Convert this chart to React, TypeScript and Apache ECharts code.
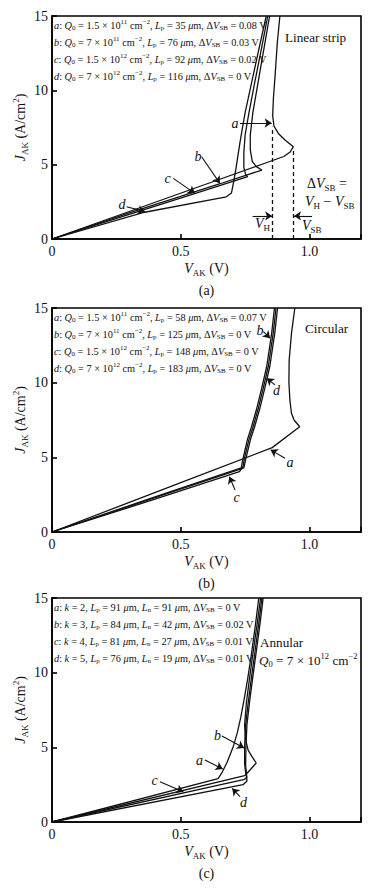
import React, { useEffect, useRef } from "react";
import * as echarts from "echarts";

// ---------- axes ----------
const X_MIN = 0;
const X_MAX = 1.2;
const X_STEP = 0.5;
const Y_MIN = 0;
const Y_MAX = 15;
const Y_STEP = 5;
const CURVE_IDS = ["a", "b", "c", "d"];
const PANEL_NAMES = ["(a)", "(b)", "(c)"];

// ---------- (a) Linear strip : [V_AK (V), J_AK (A/cm2)] ----------
const linearA = [[0, 0], [0.3, 1.85], [0.6, 3.7], [0.9, 5.55], [0.925, 5.85], [0.937, 6.2], [0.905, 6.66], [0.879, 7.1], [0.862, 7.6], [0.857, 8.3], [0.86, 9.5], [0.866, 10.9], [0.875, 13.2], [0.885, 15]];
const linearB = [[0, 0], [0.3, 1.75], [0.65, 3.7], [0.815, 4.64], [0.795, 4.85], [0.778, 5.2], [0.77, 6], [0.77, 7], [0.78, 8.5], [0.8, 10.5], [0.82, 12.5], [0.845, 15]];
const linearC = [[0, 0], [0.3, 1.65], [0.554, 3.05], [0.76, 4.19], [0.752, 4.35], [0.745, 4.8], [0.745, 5.8], [0.75, 7], [0.765, 8.5], [0.787, 10.5], [0.81, 12.5], [0.838, 15]];
const linearD = [[0, 0], [0.36, 1.8], [0.677, 2.84], [0.697, 3.1], [0.705, 3.8], [0.715, 4.8], [0.73, 6.5], [0.75, 8.5], [0.775, 10.5], [0.8, 12.5], [0.832, 15]];

// ---------- (b) Circular ----------
const circA = [[0, 0], [0.5, 3.3], [0.855, 5.65], [0.962, 7.05], [0.94, 7.5], [0.93, 7.95], [0.924, 8.8], [0.92, 10], [0.921, 11.5], [0.93, 13.3], [0.943, 15]];
const circB = [[0, 0], [0.4, 2.35], [0.735, 4.3], [0.738, 4.6], [0.743, 5.0], [0.759, 6.2], [0.774, 7.0], [0.794, 8.2], [0.814, 9.6], [0.834, 11.1], [0.853, 13.3], [0.864, 15]];
const circC = [[0, 0], [0.4, 2.2], [0.728, 4.05], [0.742, 4.4], [0.748, 5.0], [0.765, 6.2], [0.78, 7.0], [0.8, 8.2], [0.82, 9.6], [0.84, 11.1], [0.859, 13.3], [0.87, 15]];
const circD = [[0, 0], [0.4, 2.3], [0.72, 4.15], [0.745, 4.3], [0.754, 5.0], [0.771, 6.2], [0.786, 7.0], [0.806, 8.2], [0.826, 9.6], [0.846, 11.1], [0.865, 13.3], [0.876, 15]];

// ---------- (c) Annular ----------
const annA = [[0, 0], [0.645, 2.9], [0.66, 3.3], [0.68, 4.0], [0.703, 5.0], [0.72, 6.0], [0.733, 7.0], [0.745, 8.1], [0.76, 9.6], [0.775, 11.3], [0.79, 13.2], [0.803, 15]];
const annB = [[0, 0], [0.748, 3.1], [0.77, 3.5], [0.793, 3.95], [0.778, 4.35], [0.762, 4.8], [0.752, 5.5], [0.748, 6.5], [0.755, 8], [0.767, 9.6], [0.782, 11.5], [0.797, 13.3], [0.81, 15]];
const annC = [[0, 0], [0.748, 2.86], [0.756, 3.0], [0.752, 3.3], [0.748, 3.9], [0.748, 5], [0.752, 6.5], [0.762, 8], [0.774, 9.6], [0.789, 11.5], [0.803, 13.3], [0.815, 15]];
const annD = [[0, 0], [0.742, 2.5], [0.757, 2.75], [0.756, 3.1], [0.752, 3.8], [0.753, 5], [0.757, 6.5], [0.767, 8], [0.779, 9.6], [0.794, 11.5], [0.808, 13.3], [0.82, 15]];

// ---------- legend parameters ----------
const q0Mantissa = ["1.5", "7", "1.5", "7"];
const q0Exponent = ["11", "11", "12", "12"];
const linearLp = ["35", "76", "92", "116"];
const linearDV = ["0.08", "0.03", "0.02", "0"];
const circLp = ["58", "125", "148", "183"];
const circDV = ["0.07", "0", "0", "0"];
const annK = ["2", "3", "4", "5"];
const annLp = ["91", "84", "81", "76"];
const annLn = ["91", "42", "27", "19"];
const annDV = ["0", "0.02", "0.01", "0.01"];

// ---------- annotation arrows [x1, y1, x2(tip), y2(tip)] in data units ----------
const linearArrows = [[0.73, 7.8, 0.853, 7.8], [0.581, 5.53, 0.652, 3.74], [0.471, 4.08, 0.555, 3.07], [0.29, 2.17, 0.361, 1.84], [0.779, 1.55, 0.855, 1.55], [1.01, 1.55, 0.94, 1.55]];
const linearDashes = [[0.857, 7.55], [0.937, 6.1]]; // V_H, V_SB
const circArrows = [[0.821, 13.42, 0.847, 12.98], [0.866, 9.85, 0.834, 10.29], [0.905, 4.94, 0.849, 5.5], [0.711, 2.81, 0.689, 3.7]];
const annArrows = [[0.66, 5.76, 0.746, 4.96], [0.594, 4.15, 0.663, 3.55], [0.419, 2.7, 0.51, 2.03], [0.73, 1.7, 0.7, 2.25]];

// ---------- layout ----------
const FONT = "'Liberation Serif', 'Times New Roman', serif";
const GRID_LEFT = 52;
const GRID_WIDTH = 309;
const PANEL_TOP = [16, 308, 598];
const PANEL_H = [223, 224, 224];

const mkRich = (size: number, lh: number, small: number) => ({
  n: { fontFamily: FONT, fontSize: size, lineHeight: lh, fill: "#111" },
  i: { fontFamily: FONT, fontSize: size, lineHeight: lh, fill: "#111", fontStyle: "italic" },
  sub: { fontFamily: FONT, fontSize: small, lineHeight: small, fill: "#111", verticalAlign: "bottom" },
  sup: { fontFamily: FONT, fontSize: small, lineHeight: small, fill: "#111", verticalAlign: "top" },
});
const RICH_S = mkRich(10.3, 13, 7);
const RICH_L = mkRich(14, 18, 9);
const RICH_M = mkRich(13.2, 17, 8.5);

const txt = (x: number, y: number, text: string, rich: any, align = "left", rotation = 0) => ({
  type: "text",
  x,
  y,
  rotation,
  silent: true,
  z: 50,
  style: { text, rich, align, verticalAlign: "middle", textAlign: align, textVerticalAlign: "middle", fill: "#111" },
});

function App() {
  const ref = useRef<HTMLDivElement>(null);
  useEffect(() => {
    if (!ref.current) return;
    document.body.style.margin = "0";
    const chart = echarts.init(ref.current, undefined, { renderer: "svg" });

    const panels = [
      { curves: [linearA, linearB, linearC, linearD], arrows: linearArrows, dashes: linearDashes },
      { curves: [circA, circB, circC, circD], arrows: circArrows, dashes: [] as number[][] },
      { curves: [annA, annB, annC, annD], arrows: annArrows, dashes: [] as number[][] },
    ];

    const grid = PANEL_TOP.map((t, i) => ({
      left: GRID_LEFT, top: t, width: GRID_WIDTH, height: PANEL_H[i],
      show: true, borderColor: "#000", borderWidth: 1.6, backgroundColor: "transparent",
    }));

    const xAxis = PANEL_TOP.map((_, i) => ({
      type: "value", gridIndex: i, min: X_MIN, max: X_MAX, interval: X_STEP,
      axisLine: { show: true, onZero: false, lineStyle: { color: "#000", width: 1.6 } },
      axisTick: { show: true, inside: true, length: 5, lineStyle: { color: "#000", width: 1.6 } },
      splitLine: { show: false },
      axisLabel: {
        color: "#111", fontFamily: FONT, fontSize: 14, margin: 5,
        formatter: (v: number) => (Math.abs(v - X_MAX) < 1e-9 ? "" : v === 0 ? "0" : v.toFixed(1)),
      },
    }));
    const yAxis = PANEL_TOP.map((_, i) => ({
      type: "value", gridIndex: i, min: Y_MIN, max: Y_MAX, interval: Y_STEP,
      axisLine: { show: true, onZero: false, lineStyle: { color: "#000", width: 1.6 } },
      axisTick: { show: true, inside: true, length: 5, lineStyle: { color: "#000", width: 1.6 } },
      splitLine: { show: false },
      axisLabel: { color: "#111", fontFamily: FONT, fontSize: 14, margin: 4 },
    }));

    const series: any[] = [];
    panels.forEach((p, pi) => {
      p.curves.forEach((c, ci) => {
        const s: any = {
          type: "line", name: `${PANEL_NAMES[pi]} ${CURVE_IDS[ci]}`,
          xAxisIndex: pi, yAxisIndex: pi, data: c,
          showSymbol: false, symbol: "none", silent: true, z: 3,
          lineStyle: { color: "#111", width: 1.3 },
        };
        if (ci === 0) {
          const mlData: any[] = [];
          p.arrows.forEach((a) => {
            mlData.push([
              { coord: [a[0], a[1]], symbol: "none" },
              { coord: [a[2], a[3]], symbol: "arrow" },
            ]);
          });
          p.dashes.forEach((d) => {
            const ls = { color: "#111", width: 1.3, type: [4, 3] };
            mlData.push([
              { coord: [d[0], Y_MIN], symbol: "none", lineStyle: ls },
              { coord: [d[0], d[1]], symbol: "none", lineStyle: ls },
            ]);
          });
          s.markLine = {
            silent: true, animation: false, symbolSize: 7,
            label: { show: false }, emphasis: { disabled: true },
            lineStyle: { color: "#111", width: 1.1, type: "solid" },
            data: mlData,
          };
        }
        series.push(s);
      });
    });

    const el: any[] = [];
    // legend lines
    const legendLines = [
      CURVE_IDS.map((id, k) => `{i|${id}}{n|: }{i|Q}{sub|0}{n| = ${q0Mantissa[k]} × 10}{sup|${q0Exponent[k]}}{n| cm}{sup|−2}{n|, }{i|L}{sub|p}{n| = ${linearLp[k]} }{i|μ}{n|m, Δ}{i|V}{sub|SB}{n| = ${linearDV[k]} V}`),
      CURVE_IDS.map((id, k) => `{i|${id}}{n|: }{i|Q}{sub|0}{n| = ${q0Mantissa[k]} × 10}{sup|${q0Exponent[k]}}{n| cm}{sup|−2}{n|, }{i|L}{sub|p}{n| = ${circLp[k]} }{i|μ}{n|m, Δ}{i|V}{sub|SB}{n| = ${circDV[k]} V}`),
      CURVE_IDS.map((id, k) => `{i|${id}}{n|: }{i|k}{n| = ${annK[k]}, }{i|L}{sub|p}{n| = ${annLp[k]} }{i|μ}{n|m, }{i|L}{sub|n}{n| = ${annLn[k]} }{i|μ}{n|m, Δ}{i|V}{sub|SB}{n| = ${annDV[k]} V}`),
    ];
    legendLines.forEach((lines, pi) => {
      lines.forEach((l, k) => el.push(txt(54, PANEL_TOP[pi] + 9 + 17 * k, l, RICH_S)));
    });

    // axis titles & captions
    PANEL_TOP.forEach((t, pi) => {
      const bottom = t + PANEL_H[pi];
      const cx = GRID_LEFT + GRID_WIDTH / 2;
      el.push(txt(cx, bottom + 29, "{i|V}{sub|AK}{n| (V)}", RICH_L, "center"));
      el.push(txt(cx, bottom + 51, `{n|${PANEL_NAMES[pi]}}`, RICH_L, "center"));
      el.push(txt(20, t + PANEL_H[pi] / 2, "{i|J}{sub|AK}{n| (A/cm}{sup|2}{n|)}", RICH_L, "center", Math.PI / 2));
    });

    // panel (a) labels
    el.push(txt(285, 37, "{n|Linear strip}", RICH_M));
    el.push(txt(235, 123, "{i|a}", RICH_L, "center"));
    el.push(txt(198, 156, "{i|b}", RICH_L, "center"));
    el.push(txt(167.5, 178.5, "{i|c}", RICH_L, "center"));
    el.push(txt(122, 204, "{i|d}", RICH_L, "center"));
    el.push(txt(307, 183, "{n|Δ}{i|V}{sub|SB}{n| =}", RICH_L));
    el.push(txt(305, 201, "{i|V}{sub|H}{n| − }{i|V}{sub|SB}", RICH_L));
    el.push(txt(255, 223, "{i|V}{sub|H}", RICH_L));
    el.push(txt(302, 225, "{i|V}{sub|SB}", RICH_L));

    // panel (b) labels
    el.push(txt(305, 328, "{n|Circular}", RICH_M));
    el.push(txt(260, 330, "{i|b}", RICH_L, "center"));
    el.push(txt(276.5, 390, "{i|d}", RICH_L, "center"));
    el.push(txt(290, 462, "{i|a}", RICH_L, "center"));
    el.push(txt(236.5, 497.5, "{i|c}", RICH_L, "center"));

    // panel (c) labels
    el.push(txt(260, 642, "{n|Annular}", RICH_M));
    el.push(txt(259, 660, "{i|Q}{sub|0}{n| = 7 × 10}{sup|12}{n| cm}{sup|−2}", RICH_M));
    el.push(txt(217.5, 735, "{i|b}", RICH_L, "center"));
    el.push(txt(199.5, 760, "{i|a}", RICH_L, "center"));
    el.push(txt(154.5, 780.5, "{i|c}", RICH_L, "center"));
    el.push(txt(243.5, 802.5, "{i|d}", RICH_L, "center"));

    chart.setOption({
      animation: false,
      backgroundColor: "#fff",
      textStyle: { fontFamily: FONT },
      grid, xAxis, yAxis, series,
      graphic: { elements: el },
    });
    return () => chart.dispose();
  }, []);
  return <div ref={ref} style={{ position: "fixed", left: 0, top: 0, width: 381, height: 888 }} />;
}

export default App;
